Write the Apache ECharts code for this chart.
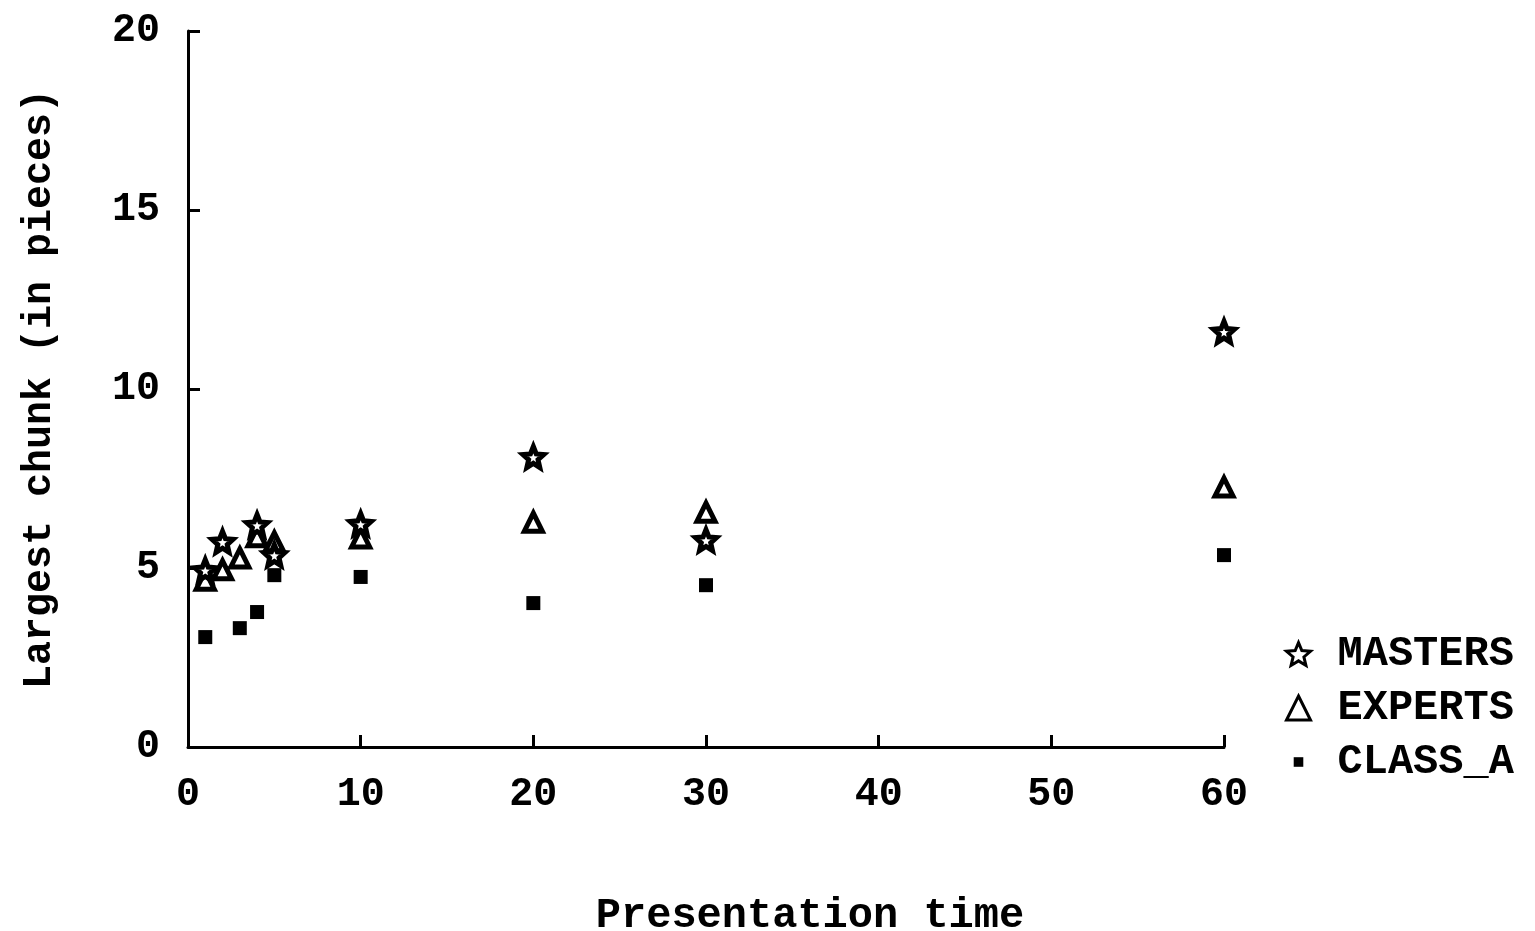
<!DOCTYPE html>
<html>
<head>
<meta charset="utf-8">
<title>Largest chunk vs presentation time</title>
<script src="https://cdn.jsdelivr.net/npm/echarts@6/dist/echarts.min.js"></script>
<style>
  html, body { margin: 0; padding: 0; background: #fff; }
  #chart { width: 1535px; height: 931px; }
</style>
</head>
<body>
<div id="chart"></div>
<script>
// values (x = presentation time, y = largest chunk)
const masters = [[1, 4.94], [2, 5.73], [4, 6.2], [5, 5.36], [10, 6.23], [20, 8.1], [30, 5.78], [60, 11.6]];
const experts = [[1, 4.66], [2, 4.95], [3, 5.28], [4, 5.87], [5, 5.73], [10, 5.84], [20, 6.28], [30, 6.56], [60, 7.26]];
const classA = [[1, 3.07], [2, 4.85], [3, 3.32], [4, 3.77], [5, 4.8], [10, 4.75], [20, 4.02], [30, 4.52], [60, 5.36]];
const xTicks = [0, 10, 20, 30, 40, 50, 60];
const yTicks = [0, 5, 10, 15, 20];

const FONT = '"Liberation Mono", "DejaVu Sans Mono", monospace';
const STAR = 'path://M50 0 L63.2 31.8 L97.6 34.5 L71.4 57 L79.4 90.5 L50 72.5 L20.6 90.5 L28.6 57 L2.4 34.5 L36.8 31.8 Z';
// small square padded inside a bigger box so the legend icon stays small
const SMALL_SQUARE = 'path://M0 0 M100 100 M30 30 L70 30 L70 70 L30 70 Z';

const chart = echarts.init(document.getElementById('chart'));
chart.setOption({
  animation: false,
  backgroundColor: '#fff',
  textStyle: { fontFamily: FONT, color: '#000' },
  grid: { left: 188, right: 311, top: 31, bottom: 184, outerBoundsMode: 'none', containLabel: false },
  legend: {
    orient: 'vertical',
    left: 1280,
    top: 628,
    itemWidth: 24,
    itemHeight: 24,
    itemGap: 12,
    textStyle: { fontFamily: FONT, fontWeight: 'bold', fontSize: 42, color: '#000', padding: [0, 0, 0, 22] },
    data: [
      { name: 'MASTERS', icon: STAR, itemStyle: { color: '#fff', borderColor: '#000', borderWidth: 3 } },
      { name: 'EXPERTS', icon: 'triangle', itemStyle: { color: '#fff', borderColor: '#000', borderWidth: 3 } },
      { name: 'CLASS_A', icon: SMALL_SQUARE, itemStyle: { color: '#000' } }
    ]
  },
  xAxis: {
    type: 'value',
    min: xTicks[0],
    max: xTicks[xTicks.length - 1],
    interval: 10,
    name: 'Presentation time',
    nameLocation: 'middle',
    nameGap: 148,
    nameTextStyle: { fontFamily: FONT, fontWeight: 'bold', fontSize: 42, color: '#000', padding: [0, 0, 0, 208] },
    axisLine: { lineStyle: { color: '#000', width: 3 } },
    axisTick: { inside: true, length: 12, lineStyle: { color: '#000', width: 3 } },
    axisLabel: { margin: 28, fontFamily: FONT, fontWeight: 'bold', fontSize: 40, color: '#000' },
    splitLine: { show: false }
  },
  yAxis: {
    type: 'value',
    min: yTicks[0],
    max: yTicks[yTicks.length - 1],
    interval: 5,
    name: 'Largest chunk (in pieces)',
    nameLocation: 'middle',
    nameGap: 128,
    nameTextStyle: { fontFamily: FONT, fontWeight: 'bold', fontSize: 40, color: '#000' },
    axisLine: { show: true, lineStyle: { color: '#000', width: 3 } },
    axisTick: { show: true, inside: true, length: 12, lineStyle: { color: '#000', width: 3 } },
    axisLabel: { margin: 28, fontFamily: FONT, fontWeight: 'bold', fontSize: 40, color: '#000' },
    splitLine: { show: false }
  },
  series: [
    {
      name: 'MASTERS',
      type: 'scatter',
      data: masters,
      symbol: STAR,
      symbolSize: 21,
      itemStyle: { color: '#fff', borderColor: '#000', borderWidth: 5, opacity: 1 },
      z: 3
    },
    {
      name: 'EXPERTS',
      type: 'scatter',
      data: experts,
      symbol: 'triangle',
      symbolSize: 18,
      itemStyle: { color: '#fff', borderColor: '#000', borderWidth: 5, opacity: 1 },
      z: 2
    },
    {
      name: 'CLASS_A',
      type: 'scatter',
      data: classA,
      symbol: 'rect',
      symbolSize: 14,
      itemStyle: { color: '#000', opacity: 1 },
      z: 1
    }
  ]
});
</script>
</body>
</html>
